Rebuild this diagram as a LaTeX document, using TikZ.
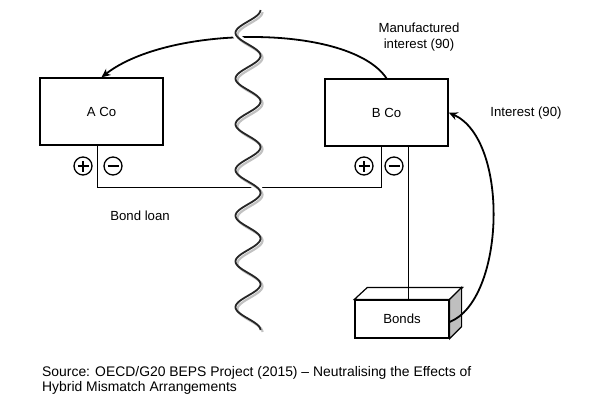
\documentclass[tikz,border=0pt]{standalone}
\usepackage{fontspec}
\setmainfont{Liberation Sans}
\usetikzlibrary{arrows.meta}
\tikzset{
  txt/.style={font=\fontsize{13.2}{15.5}\selectfont},
  box/.style={txt,draw,line width=1.4pt,minimum width=123pt,minimum height=67pt,inner sep=0pt},
  pole/.style={circle,draw,line width=1.3pt,minimum size=18pt,inner sep=0pt},
  poleplus/.style={pole,path picture={\draw[line width=1.6pt] (path picture bounding box.center) +(-5.5pt,0) -- +(5.5pt,0)
    (path picture bounding box.center) +(0,-5.5pt) -- +(0,5.5pt);}},
  poleminus/.style={pole,path picture={\draw[line width=1.6pt] (path picture bounding box.center) +(-5.5pt,0) -- +(5.5pt,0);}},
  wire/.style={line width=1pt},
  flow/.style={line width=1.8pt,-{Stealth[length=9pt,width=8pt]}}
}
\begin{document}
\begin{tikzpicture}[x=1pt,y=-1pt]
  \useasboundingbox (0,0) rectangle (590,407);
  \node[box] (aco) at (101.5,111.5) {A Co};
  \node[box] (bco) at (386.5,112.5) {B Co};
  \node[txt,draw,line width=1.2pt,minimum width=94pt,minimum height=38pt] (bonds) at (402,319) {Bonds};
  \filldraw[fill=white,line width=1.2pt] (bonds.north west) -- ++(13,-12) -- ([shift={(13,-12)}]bonds.north east) -- (bonds.north east) -- cycle;
  \filldraw[fill=black!25,line width=1.2pt] (bonds.north east) -- ++(12,-12) -- ([shift={(12,-12)}]bonds.south east) -- (bonds.south east) -- cycle;
  \node[poleplus] (pa) at (83,166) {};
  \node[poleminus] (ma) at (113,166) {};
  \node[poleplus] (pb) at (364,166) {};
  \node[poleminus] (mb) at (394,166) {};
  \draw[wire] ([xshift=-4pt]aco.south) -- ++(0,42) -| ([xshift=-5.5pt]bco.south);
  \draw[wire] ([xshift=21.5pt]bco.south) coordinate (bw) -- (bw |- bonds.north);
  \draw[flow] (bco.north) .. controls (350,24) and (170,24) .. (aco.north);
  \draw[flow] ([yshift=-3pt]bonds.east) .. controls (505,300) and (510,140) .. (bco.east);
  % wall between the two countries
  \draw[white,line width=7pt] plot[domain=10:330,samples=220,smooth,variable=\t] ({248+12.5*cos(7.875*(\t-10))},\t);
  \draw[black!40,opacity=.6,line width=2.2pt,shift={(2,2)}] plot[domain=10:330,samples=220,smooth,variable=\t] ({248+12.5*cos(7.875*(\t-10))},\t);
  \draw[black!85,line width=1.8pt] plot[domain=10:330,samples=220,smooth,variable=\t] ({248+12.5*cos(7.875*(\t-10))},\t);
  \node[txt,align=center] (mi) at (419,37) {Manufactured\\interest (90)};
  \node[txt] (ib) at (526,113) {Interest (90)};
  \node[txt] (bl) at (140,216) {Bond loan};
  \node[font=\fontsize{13.9}{15.5}\selectfont,align=left,anchor=north west,inner sep=0pt] (src) at (42,366) {Source: OECD/G20 BEPS Project (2015) – Neutralising the Effects of\\Hybrid Mismatch Arrangements};
\end{tikzpicture}
\end{document}
